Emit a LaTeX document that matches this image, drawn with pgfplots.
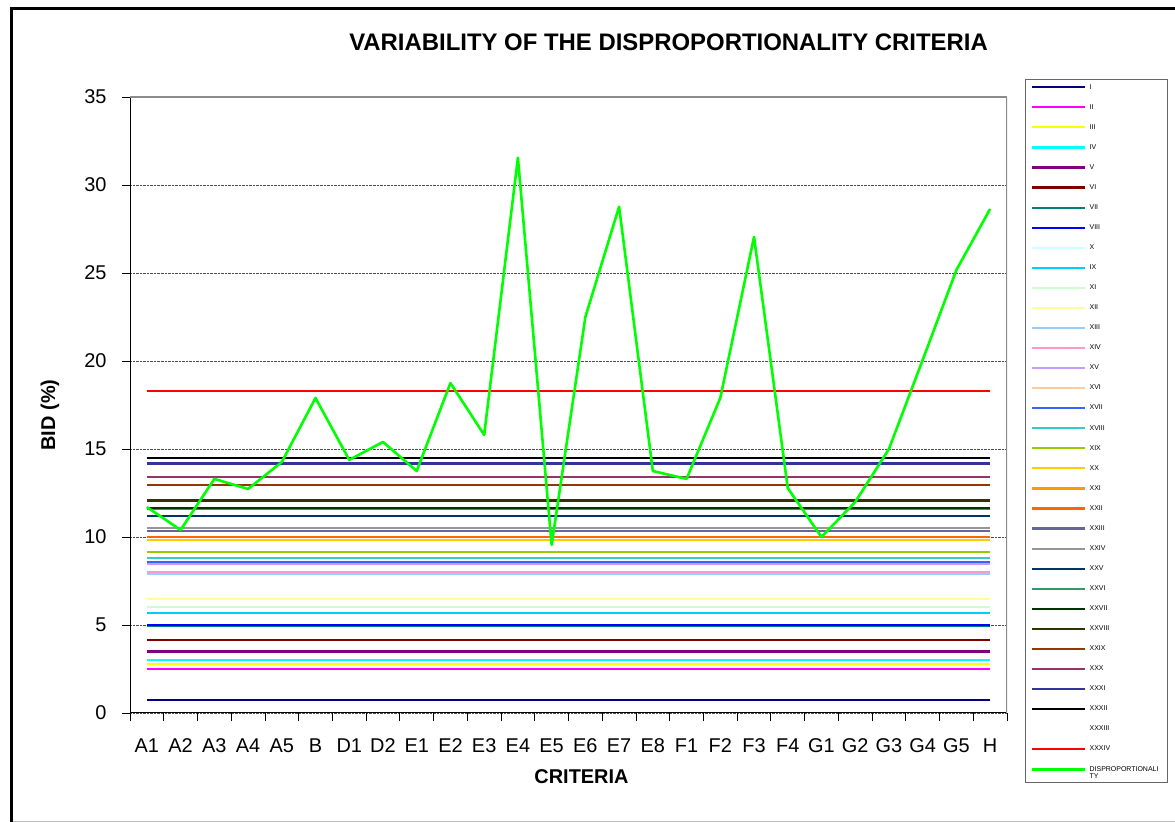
\documentclass[border=0pt]{standalone}
\usepackage{pgfplots}
\pgfplotsset{compat=1.18}
\usepackage{fontspec}
\setmainfont{Liberation Sans}
\definecolor{cI}{HTML}{000080}
\definecolor{cII}{HTML}{FF00FF}
\definecolor{cIII}{HTML}{FFFF00}
\definecolor{cIV}{HTML}{00FFFF}
\definecolor{cV}{HTML}{800080}
\definecolor{cVI}{HTML}{800000}
\definecolor{cVII}{HTML}{008080}
\definecolor{cVIII}{HTML}{0000FF}
\definecolor{cIX}{HTML}{00CCFF}
\definecolor{cX}{HTML}{CCFFFF}
\definecolor{cXI}{HTML}{CCFFCC}
\definecolor{cXII}{HTML}{FFFF99}
\definecolor{cXIII}{HTML}{99CCFF}
\definecolor{cXIV}{HTML}{FF99CC}
\definecolor{cXV}{HTML}{CC99FF}
\definecolor{cXVI}{HTML}{FFCC99}
\definecolor{cXVII}{HTML}{3366FF}
\definecolor{cXVIII}{HTML}{33CCCC}
\definecolor{cXIX}{HTML}{99CC00}
\definecolor{cXX}{HTML}{FFCC00}
\definecolor{cXXI}{HTML}{FF9900}
\definecolor{cXXII}{HTML}{FF6600}
\definecolor{cXXIII}{HTML}{666699}
\definecolor{cXXIV}{HTML}{969696}
\definecolor{cXXV}{HTML}{003366}
\definecolor{cXXVI}{HTML}{339966}
\definecolor{cXXVII}{HTML}{003300}
\definecolor{cXXVIII}{HTML}{333300}
\definecolor{cXXIX}{HTML}{993300}
\definecolor{cXXX}{HTML}{993366}
\definecolor{cXXXI}{HTML}{333399}
\definecolor{cXXXII}{HTML}{000000}
\definecolor{cXXXIV}{HTML}{FF0000}
\definecolor{cDisp}{HTML}{00FF00}
\begin{document}
\begin{tikzpicture}
\path[use as bounding box] (0,0) rectangle (1175bp,822bp);
\draw[line width=3bp] (11.6bp,0bp) -- (11.6bp,813.6bp) -- (1175bp,813.6bp);
\draw[black!25, line width=0.8bp] (13bp,1bp) -- (1175bp,1bp);
\node[font=\fontsize{24}{28}\selectfont\bfseries] at (668.5bp,780bp) {VARIABILITY OF THE DISPROPORTIONALITY CRITERIA};
\node[font=\fontsize{20}{24}\selectfont\bfseries] at (581.5bp,45bp) {CRITERIA};
\node[font=\fontsize{20}{24}\selectfont\bfseries, rotate=90] at (50bp,407bp) {BID (\%)};
\draw[black!60, line width=1bp] (1025bp,39.5bp) rectangle (1167.5bp,742bp);
\begin{axis}[
  at={(130bp,109bp)}, anchor=south west, scale only axis,
  width=877bp, height=616bp,
  xmin=-0.5, xmax=25.5, ymin=0, ymax=35,
  axis line style={draw=none},
  xtick pos=bottom, ytick pos=left,
  tick align=outside, major tick length=8bp,
  tick style={black, line width=0.8bp},
  ytick={0,5,...,35},
  ymajorgrids, major grid style={densely dotted, black!70, line width=0.7bp},
  xtick={-0.5,0.5,...,25.5}, xticklabels={},
  extra x ticks={0,1,...,25},
  extra x tick labels={A1,A2,A3,A4,A5,B,D1,D2,E1,E2,E3,E4,E5,E6,E7,E8,F1,F2,F3,F4,G1,G2,G3,G4,G5,H},
  extra x tick style={major tick length=0pt, grid=none},
  tick label style={font=\fontsize{20}{24}\selectfont},
  /pgf/number format/assume math mode=true,
  xticklabel style={yshift=-22bp},
  yticklabel style={xshift=-12bp},
  legend image code/.code={\draw[#1] (0bp,0bp) -- (53bp,0bp);},
  legend cell align=left,
  legend style={draw=none, fill=none, inner sep=0pt, outer sep=0pt,
    at={(axis description cs:1.0274,1.0211)}, anchor=north west,
    font=\fontsize{7}{8}\selectfont, row sep=13.56bp, column sep=3bp,
    nodes={inner sep=0pt, text height=5bp, text depth=1.5bp}},
  every axis plot/.append style={line width=2.2bp},
]
\addplot[cI] coordinates {(0,0.76) (25,0.76)}; \addlegendentry{I}
\addplot[cII] coordinates {(0,2.52) (25,2.52)}; \addlegendentry{II}
\addplot[cIII] coordinates {(0,2.80) (25,2.80)}; \addlegendentry{III}
\addplot[cIV] coordinates {(0,2.99) (25,2.99)}; \addlegendentry{IV}
\addplot[cV] coordinates {(0,3.49) (25,3.49)}; \addlegendentry{V}
\addplot[cVI] coordinates {(0,4.17) (25,4.17)}; \addlegendentry{VI}
\addplot[cVII] coordinates {(0,4.93) (25,4.93)}; \addlegendentry{VII}
\addplot[cVIII] coordinates {(0,4.98) (25,4.98)}; \addlegendentry{VIII}
\addplot[cX] coordinates {(0,5.70) (25,5.70)}; \addlegendentry{X}
\addplot[cIX] coordinates {(0,5.66) (25,5.66)}; \addlegendentry{IX}
\addplot[cXI] coordinates {(0,6.02) (25,6.02)}; \addlegendentry{XI}
\addplot[cXII] coordinates {(0,6.49) (25,6.49)}; \addlegendentry{XII}
\addplot[cXIII] coordinates {(0,7.92) (25,7.92)}; \addlegendentry{XIII}
\addplot[cXIV] coordinates {(0,7.99) (25,7.99)}; \addlegendentry{XIV}
\addplot[cXV] coordinates {(0,8.47) (25,8.47)}; \addlegendentry{XV}
\addplot[cXVI] coordinates {(0,8.56) (25,8.56)}; \addlegendentry{XVI}
\addplot[cXVII] coordinates {(0,8.58) (25,8.58)}; \addlegendentry{XVII}
\addplot[cXVIII] coordinates {(0,8.81) (25,8.81)}; \addlegendentry{XVIII}
\addplot[cXIX] coordinates {(0,9.13) (25,9.13)}; \addlegendentry{XIX}
\addplot[cXX] coordinates {(0,9.82) (25,9.82)}; \addlegendentry{XX}
\addplot[cXXI] coordinates {(0,10.00) (25,10.00)}; \addlegendentry{XXI}
\addplot[cXXII] coordinates {(0,9.99) (25,9.99)}; \addlegendentry{XXII}
\addplot[cXXIII] coordinates {(0,10.36) (25,10.36)}; \addlegendentry{XXIII}
\addplot[cXXIV] coordinates {(0,10.53) (25,10.53)}; \addlegendentry{XXIV}
\addplot[cXXV] coordinates {(0,11.18) (25,11.18)}; \addlegendentry{XXV}
\addplot[cXXVI] coordinates {(0,11.62) (25,11.62)}; \addlegendentry{XXVI}
\addplot[cXXVII] coordinates {(0,11.67) (25,11.67)}; \addlegendentry{XXVII}
\addplot[cXXVIII] coordinates {(0,12.07) (25,12.07)}; \addlegendentry{XXVIII}
\addplot[cXXIX] coordinates {(0,12.94) (25,12.94)}; \addlegendentry{XXIX}
\addplot[cXXX] coordinates {(0,13.41) (25,13.41)}; \addlegendentry{XXX}
\addplot[cXXXI] coordinates {(0,14.18) (25,14.18)}; \addlegendentry{XXXI}
\addplot[cXXXII] coordinates {(0,14.51) (25,14.51)}; \addlegendentry{XXXII}
\addplot[draw=none, forget plot] coordinates {(0,9.50) (25,9.50)};
\addlegendimage{empty legend} \addlegendentry{XXXIII}
\addplot[cXXXIV] coordinates {(0,18.30) (25,18.30)}; \addlegendentry{XXXIV}
\addplot[cDisp, line width=2.6bp, line join=round] coordinates {
(0,11.70) (1,10.40) (2,13.30) (3,12.73) (4,14.26) (5,17.90) (6,14.38) (7,15.40)
(8,13.75) (9,18.75) (10,15.80) (11,31.55) (12,9.55) (13,22.50) (14,28.77) (15,13.75)
(16,13.30) (17,17.90) (18,27.05) (19,12.78) (20,10.00) (21,11.99) (22,15.00) (23,20.06)
(24,25.17) (25,28.64)};
\addlegendentry{\begin{tabular}[t]{@{}l@{}}DISPROPORTIONALI\\[-1bp]TY\end{tabular}}
\draw[black, line width=1.2bp] (axis description cs:0,1) -- (axis description cs:0,0) -- (axis description cs:1,0);
\draw[black!45, line width=1.2bp] (axis description cs:0,1) -- (axis description cs:1,1);
\draw[black!45, line width=2.4bp] (axis description cs:1,1) -- (axis description cs:1,0);
\end{axis}
\end{tikzpicture}
\end{document}
